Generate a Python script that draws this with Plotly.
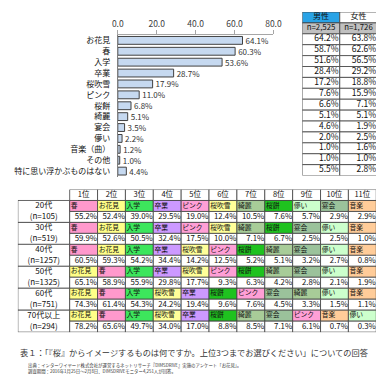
import plotly.graph_objects as go

FONT = "Noto Sans CJK JP"
W, H = 384, 374

# ---------------- data ----------------
categories = ["お花見", "春", "入学", "卒業", "桜吹雪", "ピンク", "桜餅", "綺麗",
              "宴会", "儚い", "音楽（曲）", "その他", "特に思い浮かぶものはない"]
overall_pct = [64.1, 60.3, 53.6, 28.7, 17.9, 11.0, 6.8, 5.1, 3.5, 2.2, 1.2, 1.0, 4.4]
axis_ticks = [0, 20, 40, 60, 80]

gender_labels = ["男性", "女性"]
gender_n = ["n=2,525", "n=1,726"]
male_pct = [64.2, 58.7, 51.6, 28.4, 17.2, 7.6, 6.6, 5.1, 4.6, 2.0, 1.0, 1.0, 5.5]
female_pct = [63.8, 62.6, 56.5, 29.2, 18.8, 15.9, 7.1, 5.1, 1.9, 2.5, 1.6, 1.0, 2.8]

rank_labels = ["1位", "2位", "3位", "4位", "5位", "6位", "7位", "8位", "9位", "10位", "11位"]
age_groups = ["20代", "30代", "40代", "50代", "60代", "70代以上"]
age_n = ["(n=105)", "(n=519)", "(n=1257)", "(n=1325)", "(n=751)", "(n=294)"]

items_20s = ["春", "お花見", "入学", "卒業", "ピンク", "桜吹雪", "綺麗", "桜餅", "儚い", "宴会", "音楽"]
pct_20s = [55.2, 52.4, 39.0, 29.5, 19.0, 12.4, 10.5, 7.6, 5.7, 2.9, 2.9]
items_30s = ["春", "お花見", "入学", "卒業", "ピンク", "桜吹雪", "綺麗", "桜餅", "宴会", "儚い", "音楽"]
pct_30s = [59.9, 52.6, 50.5, 32.4, 17.5, 10.0, 7.1, 6.7, 2.5, 2.5, 1.0]
items_40s = ["春", "お花見", "入学", "卒業", "桜吹雪", "ピンク", "桜餅", "綺麗", "宴会", "儚い", "音楽"]
pct_40s = [60.5, 59.3, 54.2, 34.4, 14.2, 12.5, 5.2, 5.1, 3.2, 2.7, 0.8]
items_50s = ["お花見", "春", "入学", "卒業", "桜吹雪", "ピンク", "桜餅", "綺麗", "宴会", "儚い", "音楽"]
pct_50s = [65.1, 58.9, 55.9, 29.8, 17.7, 9.3, 6.3, 4.2, 2.8, 2.1, 1.9]
items_60s = ["お花見", "春", "入学", "桜吹雪", "卒業", "桜餅", "ピンク", "宴会", "綺麗", "儚い", "音楽"]
pct_60s = [74.3, 61.4, 54.3, 24.2, 19.4, 9.6, 7.6, 4.5, 3.3, 1.5, 1.1]
items_70s = ["お花見", "春", "入学", "桜吹雪", "卒業", "桜餅", "綺麗", "宴会", "ピンク", "音楽", "儚い"]
pct_70s = [78.2, 65.6, 49.7, 34.0, 17.0, 8.8, 8.5, 7.1, 6.1, 0.7, 0.3]

rank_items = [items_20s, items_30s, items_40s, items_50s, items_60s, items_70s]
rank_pcts = [pct_20s, pct_30s, pct_40s, pct_50s, pct_60s, pct_70s]

caption = "表１：「『桜』からイメージするものは何ですか。上位3つまでお選びください」についての回答"
source_1 = "出典：インターワイヤード株式会社が運営するネットリサーチ『DIMSDRIVE』実施のアンケート「お花見」。"
source_2 = "調査期間：2016年1月25日～2月8日、DIMSDRIVEモニター4,251人が回答。"

# ---------------- styles ----------------
item_colors = {
    "春": "#ff99cc", "お花見": "#ffff88", "入学": "#3de65c", "卒業": "#cc99ff",
    "ピンク": "#ff9fd6", "桜吹雪": "#ffff99", "綺麗": "#a8cc98", "桜餅": "#1fc21f",
    "儚い": "#ccffcc", "宴会": "#9bc29b", "音楽": "#ffcc99",
}
LINE = "#404040"
BAR_FILL = "#c6d9f0"
LABEL_W = 1.86  # width of the row-label column, in rank-column units


def fy(px):
    return 1 - px / H


fig = go.Figure()

# ---------------- overall bar chart ----------------
fig.add_trace(go.Bar(
    x=overall_pct, y=categories, orientation="h", width=0.72,
    marker=dict(color=BAR_FILL, line=dict(color=LINE, width=1)),
    texttemplate="%{x:.1f}%", textposition="outside", constraintext="none",
    textfont=dict(size=8, color="#333333", family=FONT),
    cliponaxis=False, hoverinfo="skip", xaxis="x", yaxis="y",
))

# ---------------- gender table ----------------
n_rows_g = 2 + len(male_pct)
gx, gb, gc = [], [], []
for c in range(2):
    for r in range(n_rows_g):
        gx.append(c + 0.5)
        gb.append(r)
        if r == 0:
            gc.append("#29a3e6" if c == 0 else "white")
        elif r == 1:
            gc.append("#c0c0c0")
        else:
            gc.append("white")
fig.add_trace(go.Bar(
    x=gx, y=[1] * len(gx), base=gb, width=1,
    marker=dict(color=gc, line=dict(color=LINE, width=0.8)),
    hoverinfo="skip", xaxis="x2", yaxis="y2",
))
fig.add_trace(go.Scatter(
    x=[0.5, 1.5, 0.5, 1.5], y=[0.5, 0.5, 1.5, 1.5],
    text=gender_labels + gender_n, mode="text", textposition="middle center",
    textfont=dict(size=[8, 8, 7.8, 7.8], color="#111111", family=FONT),
    hoverinfo="skip", xaxis="x2", yaxis="y2", cliponaxis=False,
))
vx, vy, vt = [], [], []
for c, vals in enumerate([male_pct, female_pct]):
    for i, v in enumerate(vals):
        vx.append(c + 0.97)
        vy.append(2 + i + 0.5)
        vt.append(f"{v:.1f}%")
fig.add_trace(go.Scatter(
    x=vx, y=vy, text=vt, mode="text", textposition="middle left",
    textfont=dict(size=8.5, color="#111111", family=FONT),
    hoverinfo="skip", xaxis="x2", yaxis="y2", cliponaxis=False,
))

# ---------------- rank table ----------------
rx, rw, rb, rh, rc = [], [], [], [], []
for k in range(len(rank_labels)):
    rx.append(k + 0.5); rw.append(1); rb.append(0); rh.append(1); rc.append("white")
for g in range(len(age_groups)):
    rx.append(-LABEL_W / 2); rw.append(LABEL_W); rb.append(1 + 2 * g); rh.append(2); rc.append("white")
    for k, item in enumerate(rank_items[g]):
        rx.append(k + 0.5); rw.append(1); rb.append(1 + 2 * g); rh.append(1); rc.append(item_colors[item])
        rx.append(k + 0.5); rw.append(1); rb.append(2 + 2 * g); rh.append(1); rc.append("white")
fig.add_trace(go.Bar(
    x=rx, y=rh, base=rb, width=rw,
    marker=dict(color=rc, line=dict(color=LINE, width=0.8)),
    hoverinfo="skip", xaxis="x3", yaxis="y3",
))
fig.add_trace(go.Scatter(
    x=[k + 0.5 for k in range(len(rank_labels))], y=[0.5] * len(rank_labels),
    text=rank_labels, mode="text", textposition="middle center",
    textfont=dict(size=7.5, color="#111111", family=FONT),
    hoverinfo="skip", xaxis="x3", yaxis="y3", cliponaxis=False,
))
lx, ly, lt = [], [], []
for g in range(len(age_groups)):
    lx += [-LABEL_W / 2, -LABEL_W / 2]
    ly += [1 + 2 * g + 0.5, 2 + 2 * g + 0.5]
    lt += [age_groups[g], age_n[g]]
fig.add_trace(go.Scatter(
    x=lx, y=ly, text=lt, mode="text", textposition="middle center",
    textfont=dict(size=8, color="#111111", family=FONT),
    hoverinfo="skip", xaxis="x3", yaxis="y3", cliponaxis=False,
))
ix, iy, it = [], [], []
px_, py_, pt = [], [], []
for g in range(len(age_groups)):
    for k in range(len(rank_labels)):
        ix.append(k + 0.04); iy.append(1 + 2 * g + 0.5); it.append(rank_items[g][k])
        px_.append(k + 0.98); py_.append(2 + 2 * g + 0.5); pt.append(f"{rank_pcts[g][k]:.1f}%")
fig.add_trace(go.Scatter(
    x=ix, y=iy, text=it, mode="text", textposition="middle right",
    textfont=dict(size=6.8, color="#111111", family=FONT),
    hoverinfo="skip", xaxis="x3", yaxis="y3", cliponaxis=False,
))
fig.add_trace(go.Scatter(
    x=px_, y=py_, text=pt, mode="text", textposition="middle left",
    textfont=dict(size=7.8, color="#111111", family=FONT),
    hoverinfo="skip", xaxis="x3", yaxis="y3", cliponaxis=False,
))

# ---------------- layout ----------------
hidden = dict(visible=False, showgrid=False, zeroline=False, fixedrange=True)
fig.update_layout(
    width=W, height=H, margin=dict(l=0, r=0, t=0, b=0),
    paper_bgcolor="white", plot_bgcolor="white", showlegend=False,
    barmode="overlay", font=dict(family=FONT, color="#111111"),
    xaxis=dict(domain=[108 / W, 270 / W], range=[0, 80], side="top",
               tickvals=axis_ticks, tickformat=".1f", ticks="outside", ticklen=4,
               tickcolor="#a6a6a6", showline=True, linecolor="#a6a6a6", linewidth=1,
               showgrid=False, zeroline=False, fixedrange=True,
               tickfont=dict(size=8.5, color="#404040", family=FONT), anchor="y"),
    yaxis=dict(domain=[fy(168), fy(26)], autorange="reversed", showline=True,
               linecolor="#7f7f7f", linewidth=1, ticks="", showgrid=False,
               ticklabelstandoff=5, tickfont=dict(size=8, color="#111111", family=FONT),
               fixedrange=True, anchor="x"),
    xaxis2=dict(domain=[300 / W, 378 / W], range=[0, 2], anchor="y2", **hidden),
    yaxis2=dict(domain=[fy(167), fy(3)], range=[n_rows_g, 0], anchor="x2", **hidden),
    xaxis3=dict(domain=[4 / W, 377 / W], range=[-LABEL_W, len(rank_labels)], anchor="y3", **hidden),
    yaxis3=dict(domain=[fy(324), fy(181)], range=[1 + 2 * len(age_groups), 0], anchor="x3", **hidden),
)

fig.add_annotation(text=caption, xref="paper", yref="paper", x=5 / W, y=fy(344),
                   xanchor="left", yanchor="middle", showarrow=False, borderpad=0,
                   font=dict(size=8.2, color="#333333", family=FONT))
fig.add_annotation(text=source_1, xref="paper", yref="paper", x=14 / W, y=fy(357),
                   xanchor="left", yanchor="middle", showarrow=False, borderpad=0,
                   font=dict(size=4.4, color="#333333", family=FONT))
fig.add_annotation(text=source_2, xref="paper", yref="paper", x=14 / W, y=fy(363),
                   xanchor="left", yanchor="middle", showarrow=False, borderpad=0,
                   font=dict(size=4.4, color="#333333", family=FONT))

fig.write_html("out.html")
